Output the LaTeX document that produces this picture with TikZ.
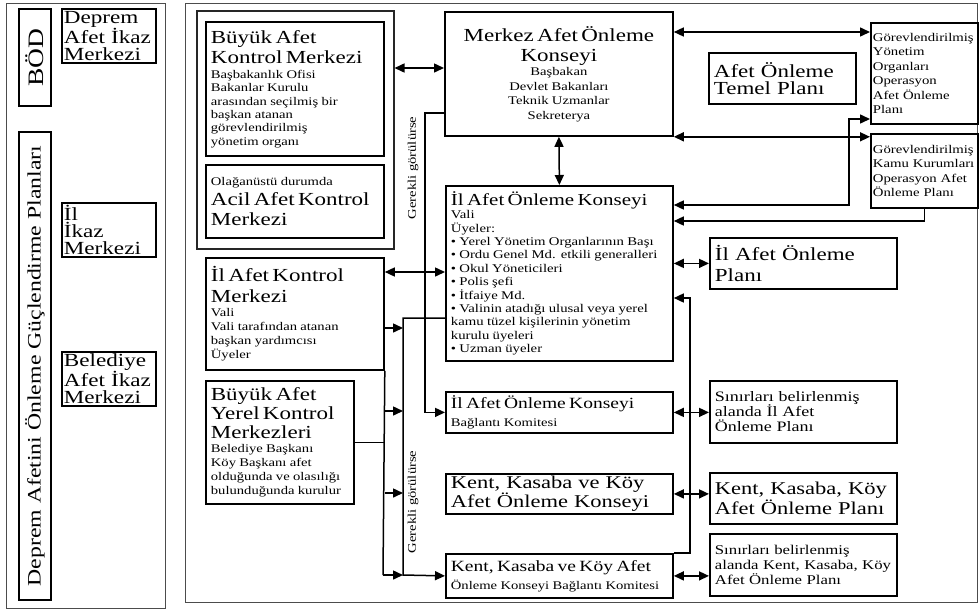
\documentclass[tikz,border=0pt]{standalone}
\usepackage{fontspec}
\setmainfont{Liberation Serif}[FakeStretch=1.25]
\usetikzlibrary{arrows.meta}
\setlength{\parindent}{0pt}
\lineskiplimit=-50pt
\newcommand\fBig{\fontsize{18.4}{20}\selectfont}
\newcommand\fSm{\fontsize{11.7}{13.3}\selectfont}
\begin{document}
\begin{tikzpicture}[x=1pt,y=-1pt,
  box/.style={draw=black, line width=1.8pt, anchor=north west, inner xsep=5pt, inner ysep=1pt, align=left},
  pnl/.style={draw=black!70, line width=1.3pt, anchor=north west, inner sep=0pt},
  conn/.style={draw=black, line width=1.5pt},
  ar/.style={-{Triangle[length=10pt,width=9pt]}},
  dar/.style={{Triangle[length=10pt,width=9pt]}-{Triangle[length=10pt,width=9pt]}},
  lab/.style={rotate=90, inner sep=0pt, font=\fontsize{11.7}{13}\selectfont}
]
\useasboundingbox (0,0) rectangle (979,611);

% panels
\node[pnl, minimum width=159pt, minimum height=605pt] (lp) at (6,3) {};
\node[pnl, minimum width=792pt, minimum height=599pt] (rp) at (185,3) {};

% left panel
\node[box, rotate=90, anchor=center, minimum width=97pt, minimum height=32pt, inner sep=0pt, font=\fontsize{22}{24}\selectfont] (bod) at (35,57.5) {BÖD};
\node[box, rotate=90, anchor=center, minimum width=468pt, minimum height=32pt, inner sep=0pt, font=\fontsize{19}{21}\selectfont] (daogp) at (35,366) {Deprem Afetini Önleme Güçlendirme Planları};
\node[box, minimum width=94pt, minimum height=54pt, inner xsep=2pt, text width=90pt, font=\fontsize{18.5}{17}\selectfont] (daim) at (61,8) {Deprem\\Afet İkaz\\Merkezi};
\node[box, minimum width=94pt, minimum height=54pt, inner xsep=2pt, text width=90pt, font=\fontsize{18.5}{17}\selectfont] (iim) at (61,202) {İl\\İkaz\\Merkezi};
\node[box, minimum width=94pt, minimum height=54pt, inner xsep=2pt, text width=90pt, font=\fontsize{18.5}{17}\selectfont] (baim) at (61,351) {Belediye\\Afet İkaz\\Merkezi};

% right panel, left column
\node[pnl, draw=black!85, line width=1.5pt, minimum width=197pt, minimum height=238pt] (grp) at (196,10) {};
\node[box, minimum width=178pt, minimum height=134pt, text width=168pt] (bakm) at (205,21)
  {{\fBig Büyük Afet\\Kontrol Merkezi\par}\vspace{2pt}{\fSm Başbakanlık Ofisi\\Bakanlar Kurulu\\arasından seçilmiş bir\\başkan atanan\\görevlendirilmiş\\yönetim organı\par}};
\node[box, minimum width=178pt, minimum height=73pt, text width=168pt] (aakm) at (205,164)
  {{\fSm Olağanüstü durumda\par}{\fBig Acil Afet Kontrol\\Merkezi\par}};
\node[box, minimum width=178pt, minimum height=112pt, text width=168pt] (iakm) at (205,257)
  {{\fontsize{18.4}{21}\selectfont İl Afet Kontrol\\Merkezi\par}{\fontsize{11.7}{14}\selectfont Vali\\Vali tarafından atanan\\başkan yardımcısı\\Üyeler\par}};
\node[box, minimum width=148pt, minimum height=123pt, text width=138pt] (baykm) at (205,380)
  {{\fontsize{18.4}{19}\selectfont Büyük Afet\\Yerel Kontrol\\Merkezleri\par}{\fontsize{11.7}{14}\selectfont Belediye Başkanı\\Köy Başkanı afet\\olduğunda ve olasılığı\\bulunduğunda kurulur\par}};

% middle column
\node[box, minimum width=228pt, minimum height=124pt, text width=218pt, align=center] (maok) at (444,11)
  {{\fBig Merkez Afet Önleme\\Konseyi\par}{\fontsize{11.7}{14.5}\selectfont Başbakan\\Devlet Bakanları\\Teknik Uzmanlar\\Sekreterya\par}};
\node[box, minimum width=227pt, minimum height=175pt, text width=217pt] (ilk) at (445,185)
  {{\fontsize{16.8}{18}\selectfont İl Afet Önleme Konseyi\par}{\fontsize{11.8}{13.4}\selectfont Vali\\Üyeler:\\• Yerel Yönetim Organlarının Başı\\• Ordu Genel Md. etkili generalleri\\• Okul Yöneticileri\\• Polis şefi\\• İtfaiye Md.\\• Valinin atadığı ulusal veya yerel\\kamu tüzel kişilerinin yönetim\\kurulu üyeleri\\• Uzman üyeler\par}};
\node[box, minimum width=227pt, minimum height=41pt, text width=217pt] (ibk) at (445,391)
  {{\fontsize{15.6}{17}\selectfont İl Afet Önleme Konseyi\par}{\fontsize{11.7}{18}\selectfont Bağlantı Komitesi\par}};
\node[box, minimum width=227pt, minimum height=40pt, text width=217pt, font=\fontsize{18}{16}\selectfont] (kkk) at (445,473)
  {Kent, Kasaba ve Köy\\Afet Önleme Konseyi};
\node[box, minimum width=227pt, minimum height=44pt, text width=217pt] (kbk) at (445,553)
  {{\fontsize{15.6}{17}\selectfont Kent, Kasaba ve Köy Afet\par}{\fontsize{11.7}{18}\selectfont Önleme Konseyi Bağlantı Komitesi\par}};

% right column
\node[box, minimum width=147pt, minimum height=51pt, text width=137pt, font=\fontsize{18.4}{17}\selectfont] (aotp) at (708,52) {Afet Önleme\\Temel Planı};
\node[box, minimum width=107pt, minimum height=101pt, inner xsep=2pt, text width=103pt, font=\fontsize{11.8}{14.4}\selectfont] (gor1) at (870,22)
  {Görevlendirilmiş\\Yönetim\\Organları\\Operasyon\\Afet Önleme\\Planı};
\node[box, minimum width=107pt, minimum height=74pt, inner xsep=2pt, text width=103pt, font=\fontsize{11.8}{14.4}\selectfont] (gor2) at (870,133)
  {Görevlendirilmiş\\Kamu Kurumları\\Operasyon Afet\\Önleme Planı};
\node[box, minimum width=187pt, minimum height=51pt, text width=177pt, font=\fontsize{18.4}{21}\selectfont] (ilp) at (709,237) {İl Afet Önleme\\Planı};
\node[box, minimum width=187pt, minimum height=62pt, text width=177pt, font=\fontsize{14.4}{15}\selectfont] (sbi) at (709,380) {Sınırları belirlenmiş\\alanda İl Afet\\Önleme Planı};
\node[box, minimum width=187pt, minimum height=51pt, text width=177pt, font=\fontsize{18}{20}\selectfont] (kkp) at (709,472) {Kent, Kasaba, Köy\\Afet Önleme Planı};
\node[box, minimum width=187pt, minimum height=62pt, text width=177pt, font=\fontsize{13.4}{15}\selectfont] (sbk) at (709,533) {Sınırları belirlenmiş\\alanda Kent, Kasaba, Köy\\Afet Önleme Planı};

% labels
\node[lab] (gk1) at (413,168) {Gerekli görülürse};
\node[lab] (gk2) at (413,502) {Gerekli görülürse};

% helper coordinates
\coordinate (bus) at (383,575);
\coordinate (vtop) at (403,318);
\coordinate (vbot) at (403,575);

% connectors
\draw[conn,dar] (grp.east |- 0,68) -- (maok.west |- 0,68);
\draw[conn,dar] (maok.east |- 0,32) -- (gor1.west |- 0,32);
\draw[conn,dar] (maok.south east) -- (gor2.west |- maok.south east);
\draw[conn,dar] (ilk.east |- 0,205) -| (849,119) -- (gor1.west |- 0,119);
\draw[conn,ar] (gor2.south) |- (ilk.east |- 0,221);
\draw[conn,dar] (maok.south) -- (ilk.north);
\draw[conn,dar] (ilk.east |- ilp.west) -- (ilp.west);
\draw[conn,ar] (kbk.north east) -- (690,553) |- (ilk.east |- 0,298);
\draw[conn,dar] (ibk.east) -- (sbi.west |- ibk.east);
\draw[conn,dar] (kkk.east) -- (kkp.west |- kkk.east);
\draw[conn,dar] (kbk.east) -- (sbk.west |- kbk.east);
\draw[conn,ar] (maok.west |- 0,113) -- (425,113) |- (ibk.west);
\draw[conn,dar] (iakm.east |- 0,272) -- (ilk.west |- 0,272);
\draw[conn] (iakm.south east) -- (bus);
\draw[conn] (baykm.east) -- (iakm.east |- baykm.east);
\draw[conn,ar] (ilk.west |- vtop) -- (vtop) -- (vbot) -- (kbk.west);
\foreach \yy in {328,411,493} \draw[conn,ar] (iakm.east |- 0,\yy) -- (vtop |- 0,\yy);
\draw[conn,ar] (bus) -- (vbot);
\end{tikzpicture}
\end{document}
